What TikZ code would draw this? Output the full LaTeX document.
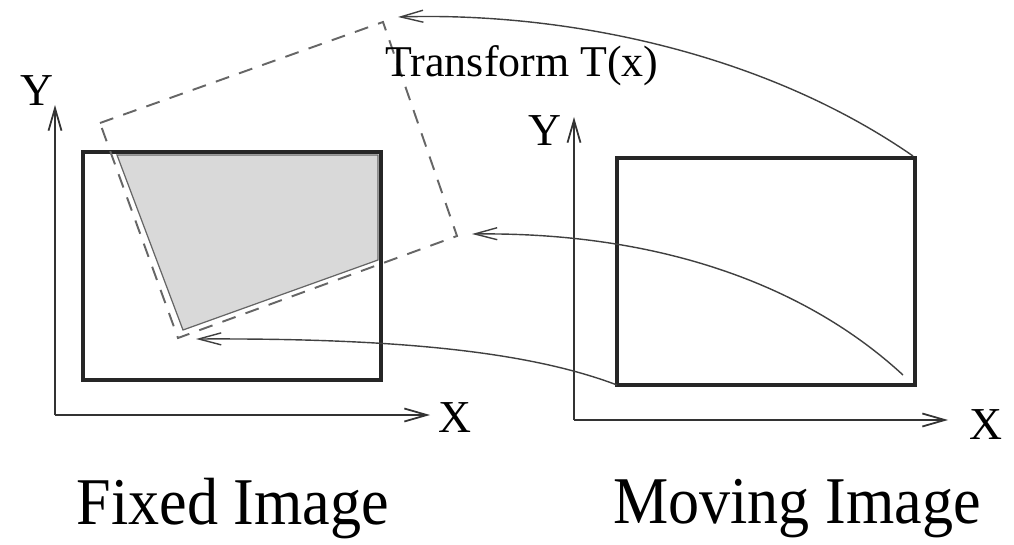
\documentclass[tikz,border=0pt]{standalone}
\usepackage{fontspec}
\setmainfont{Liberation Serif}
\usetikzlibrary{arrows.meta, positioning}

\begin{document}
\begin{tikzpicture}[x=0.2mm, y=-0.2mm,
frame/.style={draw, line width=2.2pt, black!85
}, axis/.style={-{Straight Barb[length=4.5mm, width=2.6mm]}, line width=1pt, black!80
}, myto/.style={-{Straight Barb[length=4.5mm, width=2.4mm]}, line width=0.8pt, black!75
}, dashbox/.style={draw=black!60, dash pattern=on 8pt off 6pt, line width=1.1pt
}, lbl/.style={inner sep=0pt, font=\fontsize{26}{28}\selectfont
}, captxt/.style={inner sep=0pt, xscale=0.93, font=\fontsize{38}{42}\selectfont}]

\useasboundingbox (0,0) rectangle (1014,545);

% axes
\coordinate (O1) at (55,415);
\coordinate (Yt1) at (55,105);
\coordinate (Xt1) at (430,415);
\coordinate (O2) at (574,420);
\coordinate (Yt2) at (574,117);
\coordinate (Xt2) at (948,420);
\foreach \i/\j in {O1/Yt1,O1/Xt1,O2/Yt2,O2/Xt2}{\draw[axis] (\i) -- (\j);}

\node[lbl] (Y1) at (37,91) {Y};
\node[lbl] (X1) at (455,418) {X};
\node[lbl] (Y2) at (545,131) {Y};
\node[lbl] (X2) at (986,425) {X};

% overlap region and frames
\filldraw[fill=gray!30, draw=black!60, line width=0.7pt] (117,155) -- (378,155) -- (378,260) -- (183,330) -- cycle;
\draw[frame] (83,152) rectangle (381,380);
\draw[frame] (617,158) rectangle (915,385);

% transformed moving image
\coordinate (dA) at (100,123);
\coordinate (dB) at (383,22);
\coordinate (dC) at (457,236);
\coordinate (dD) at (178,338);
\draw[dashbox] (dA) -- (dB) -- (dC) -- (dD) -- cycle;

\node[inner sep=0pt, font=\fontsize{25}{28}\selectfont] (T) at (522,66) {Transform T(x)};

% mapping arrows
\coordinate (mTR) at (913,156);
\coordinate (mBR) at (903,375);
\coordinate (mBL) at (617,385);
\coordinate (tB) at (398,17);
\coordinate (tC) at (472,234);
\coordinate (tD) at (196,339);
\draw[myto] (mTR) .. controls (760,50) and (560,12) .. (tB);
\draw[myto] (mBR) .. controls (800,280) and (650,232) .. (tC);
\draw[myto] (mBL) .. controls (530,352) and (400,338) .. (tD);

\node[captxt] (fix) at (233,509) {Fixed Image};
\node[captxt] (mov) at (797,509) {Moving Image};
\end{tikzpicture}
\end{document}
